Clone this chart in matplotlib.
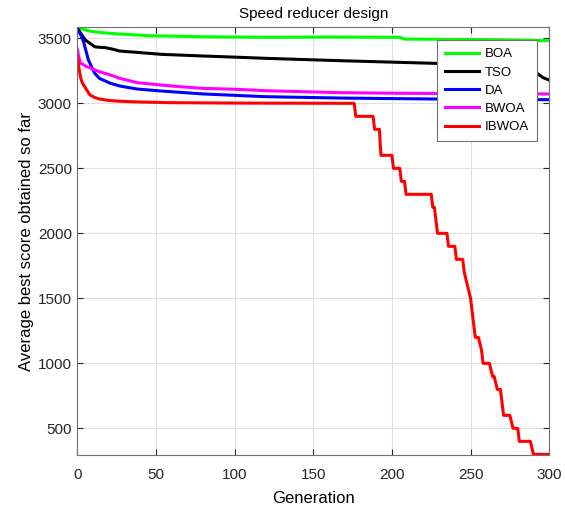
import matplotlib.pyplot as plt

plt.rcParams['font.family'] = ['Liberation Sans', 'DejaVu Sans']

# === Data (generation, average best score) ===
boa_gen = [0, 2, 8, 16, 27, 46, 80, 120, 160, 205, 208, 260, 300]
boa_val = [3585, 3575, 3555, 3543, 3533, 3520, 3512, 3508, 3510, 3508, 3494, 3490, 3482]

tso_gen = [0, 2, 5, 8, 11, 14, 18, 23, 27, 38, 53, 80, 103, 120, 167, 226, 280, 286, 290, 293, 296, 300]
tso_val = [3577, 3540, 3487, 3461, 3435, 3431, 3428, 3415, 3402, 3392, 3377, 3364, 3354, 3346, 3328, 3308,
           3295, 3285, 3255, 3225, 3198, 3179]

da_gen = [0, 2, 4, 7, 11, 14, 21, 27, 38, 53, 80, 120, 170, 230, 300]
da_val = [3564, 3530, 3470, 3333, 3231, 3192, 3154, 3133, 3110, 3095, 3072, 3051, 3040, 3033, 3028]

bwoa_gen = [0, 1, 2, 6, 14, 21, 27, 38, 53, 65, 80, 101, 120, 167, 209, 300]
bwoa_val = [3415, 3350, 3310, 3282, 3243, 3218, 3192, 3159, 3141, 3128, 3115, 3108, 3097, 3082, 3077, 3072]

ibwoa_gen = [0, 1, 2, 3, 5, 8, 11, 14, 20, 27, 40, 60, 100, 176,
             177, 188, 189, 192, 193, 200, 201, 205, 206, 208, 209, 225, 226, 227, 229, 235, 236,
             240, 241, 245, 246, 250, 253, 255, 257, 258, 262, 264, 265, 267, 269, 270, 271, 275,
             277, 280, 281, 288, 290, 300]
ibwoa_val = [3358, 3270, 3200, 3160, 3120, 3064, 3045, 3033, 3022, 3016, 3010, 3005, 3002, 3000,
             2900, 2900, 2800, 2800, 2600, 2600, 2500, 2500, 2400, 2400, 2300, 2300, 2200, 2200, 2000, 2000, 1900,
             1900, 1800, 1800, 1700, 1500, 1200, 1200, 1100, 1000, 1000, 900, 900, 800, 800, 700, 600, 600,
             500, 500, 400, 400, 300, 300]

series = [
    ("BOA", boa_gen, boa_val, "#00ff00"),
    ("TSO", tso_gen, tso_val, "black"),
    ("DA", da_gen, da_val, "blue"),
    ("BWOA", bwoa_gen, bwoa_val, "magenta"),
    ("IBWOA", ibwoa_gen, ibwoa_val, "red"),
]

fig = plt.figure(figsize=(5.65, 5.05), dpi=100)
ax = fig.add_axes([0.137, 0.099, 0.835, 0.847])

for name, g, v, c in series:
    ax.plot(g, v, color=c, linewidth=2.2, label=name)

ax.set_xlim(0, 300)
ax.set_ylim(295, 3585)
ax.set_xticks(range(0, 301, 50))
ax.set_yticks(range(500, 3501, 500))

ax.grid(True, color='#e0e0e0', linewidth=0.8)
ax.set_axisbelow(True)
ax.tick_params(direction='in', top=True, right=True, labelsize=11, colors='#262626', length=4)
ax.tick_params(axis='x', pad=9)
ax.tick_params(axis='y', pad=4)
for s in ax.spines.values():
    s.set_color('#707070')

ax.set_xlabel("Generation", fontsize=12, labelpad=7)
ax.set_ylabel("Average best score obtained so far", fontsize=12, labelpad=3)
ax.set_title("Speed reducer design", fontsize=11, pad=7)

leg = ax.legend(loc='upper right', bbox_to_anchor=(0.988, 0.985), fontsize=9.5, handlelength=2.6,
                labelspacing=0.45, borderpad=0.6, handletextpad=0.45, fancybox=False, framealpha=1)
leg.get_frame().set_edgecolor('#707070')
leg.get_frame().set_linewidth(0.8)

plt.savefig("out.png", dpi=100)
